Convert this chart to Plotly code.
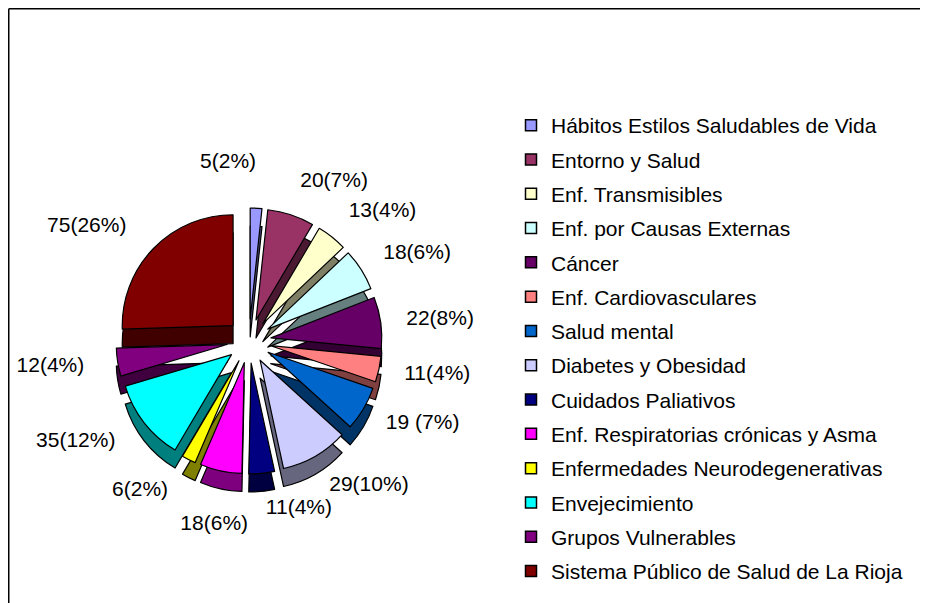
import plotly.graph_objects as go

W, H = 928, 603

categories = [
    "Hábitos Estilos Saludables de Vida",
    "Entorno y Salud",
    "Enf. Transmisibles",
    "Enf. por Causas Externas",
    "Cáncer",
    "Enf. Cardiovasculares",
    "Salud mental",
    "Diabetes y Obesidad",
    "Cuidados Paliativos",
    "Enf. Respiratorias crónicas y Asma",
    "Enfermedades Neurodegenerativas",
    "Envejecimiento",
    "Grupos Vulnerables",
    "Sistema Público de Salud de La Rioja",
]
values = [5, 20, 13, 18, 22, 11, 19, 29, 11, 18, 6, 35, 12, 75]
# percentages as printed on the chart
percents = [2, 7, 4, 6, 8, 4, 7, 10, 4, 6, 2, 12, 4, 26]
label_sep = ["", "", "", "", "", "", " ", "", "", "", "", "", "", ""]

colors = ["#9999FF", "#993366", "#FFFFCC", "#CCFFFF", "#660066", "#FF8080",
          "#0066CC", "#CCCCFF", "#000080", "#FF00FF", "#FFFF00", "#00FFFF",
          "#800080", "#800000"]

label_text = [f"{v}{s}({p}%)" for v, s, p in zip(values, label_sep, percents)]


def darker(hexc, f=0.5):
    h = hexc.lstrip("#")
    r, g, b = (int(h[i:i + 2], 16) for i in (0, 2, 4))
    return "#%02X%02X%02X" % (int(r * f), int(g * f), int(b * f))


side_colors = [darker(c) for c in colors]

FONT = "Liberation Sans, Arial, Helvetica, sans-serif"
PULL = 0.2
OFF = 8  # page offset of the plot in the browser (px)

# pie geometry (screen pixels, from top-left of window)
cx, cy, half = 249, 341, 133
depth = 18
# label rings: (centre x, centre y, radius, slice indices shown on it)
n = len(values)
rings = [
    (245, 339, 157, [i for i in range(n) if i not in (0, 9)]),
    (189, 272, 100, [0]),
    (275, 414, 100, [9]),
]


def dom(c_x, c_y, h):
    c_x -= OFF
    c_y -= OFF
    return dict(x=[(c_x - h) / W, (c_x + h) / W],
                y=[1 - (c_y + h) / H, 1 - (c_y - h) / H])


fig = go.Figure()

# side (depth) of the 3D pie
fig.add_trace(go.Pie(
    labels=categories, values=values, sort=False, direction="clockwise",
    rotation=0, pull=PULL, textinfo="none", hoverinfo="skip",
    marker=dict(colors=side_colors, line=dict(color="black", width=1.2)),
    domain=dom(cx, cy + depth, half), showlegend=False,
))

# top face
fig.add_trace(go.Pie(
    labels=categories, values=values, sort=False, direction="clockwise",
    rotation=0, pull=PULL, textinfo="none",
    marker=dict(colors=colors, line=dict(color="black", width=1.2)),
    domain=dom(cx, cy, half), showlegend=False,
))

# data labels on invisible rings
for rx, ry, rh, idx in rings:
    fig.add_trace(go.Pie(
        labels=categories, values=values, sort=False, direction="clockwise",
        rotation=0, hoverinfo="skip",
        text=label_text, textinfo="text",
        textposition=["outside" if i in idx else "none" for i in range(n)],
        outsidetextfont=dict(family=FONT, size=21, color="black"),
        marker=dict(colors=["rgba(0,0,0,0)"] * n,
                    line=dict(color="rgba(0,0,0,0)", width=0)),
        domain=dom(rx, ry, rh), showlegend=False,
    ))

# legend entries
for i, (cat, col) in enumerate(zip(categories, colors)):
    fig.add_trace(go.Scatter(
        x=[None], y=[None], mode="markers", name=cat, legendgroup=str(i),
        marker=dict(symbol="square", size=11, color=col,
                    line=dict(color="black", width=1.5)),
    ))

fig.update_layout(
    width=W, height=H,
    margin=dict(l=0, r=0, t=0, b=0, autoexpand=False),
    paper_bgcolor="white", plot_bgcolor="white",
    xaxis=dict(visible=False), yaxis=dict(visible=False),
    legend=dict(
        x=(551 - OFF - 40) / W, y=1 - (105 - OFF) / H,
        xanchor="left", yanchor="top",
        font=dict(family=FONT, size=21, color="black"),
        tracegroupgap=4, bgcolor="rgba(0,0,0,0)",
    ),
    shapes=[
        dict(type="line", xref="paper", yref="paper",
             x0=0.75 / W, x1=0.75 / W, y0=-0.05, y1=1 - 0.75 / H,
             line=dict(color="black", width=1.5)),
        dict(type="line", xref="paper", yref="paper",
             x0=0.75 / W, x1=1.05, y0=1 - 0.75 / H, y1=1 - 0.75 / H,
             line=dict(color="black", width=1.5)),
    ],
    showlegend=True,
)

fig.write_html("out.html")
